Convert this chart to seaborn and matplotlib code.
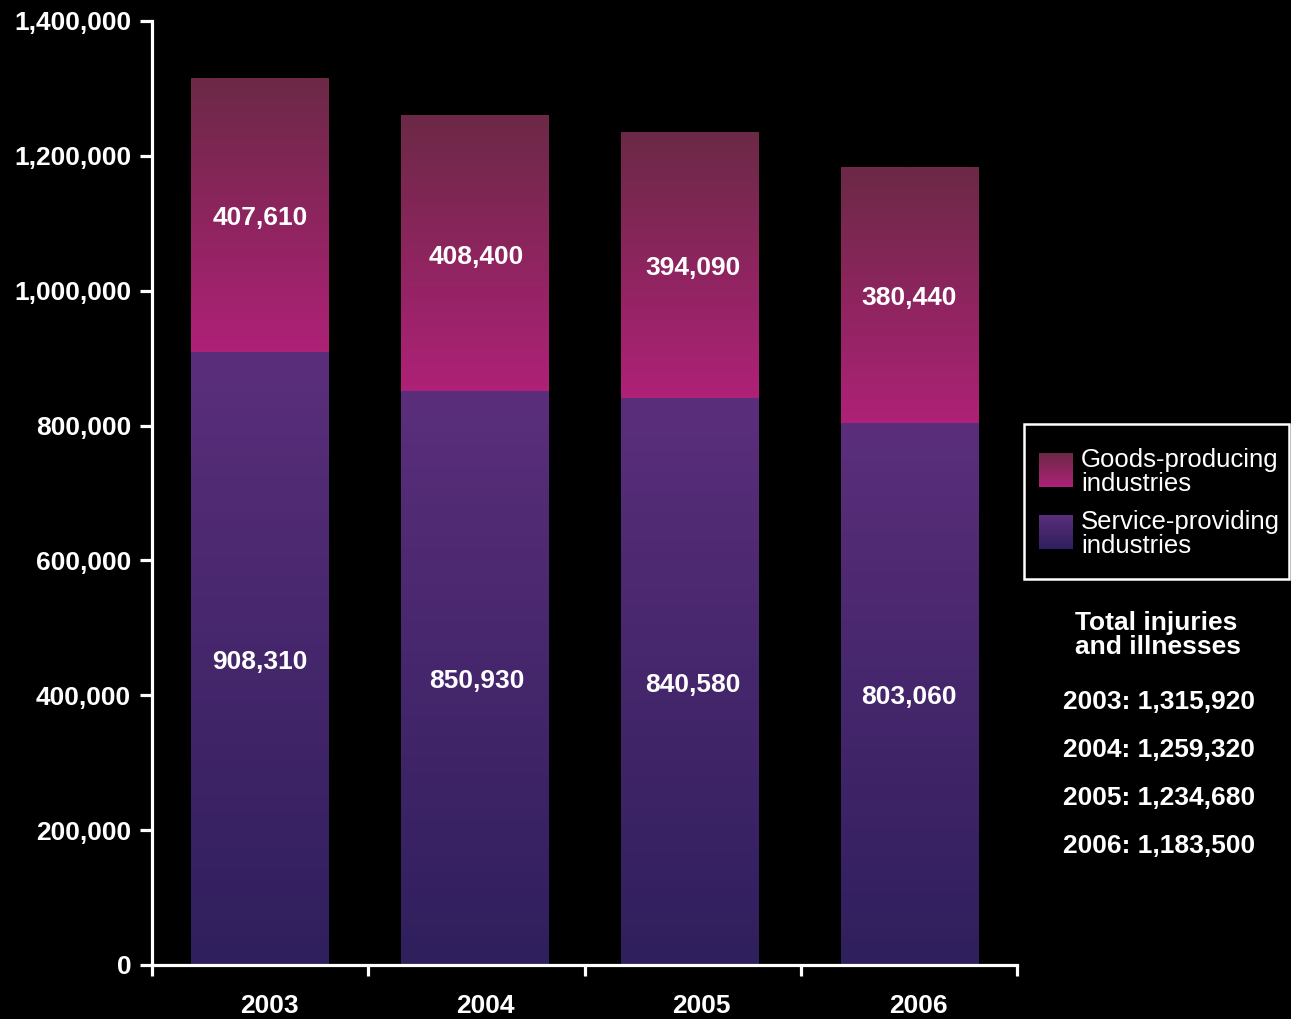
import numpy as np
import pandas as pd
import matplotlib
matplotlib.use("Agg")
import matplotlib.pyplot as plt
import matplotlib.transforms as mtransforms
import seaborn as sns
from matplotlib.colors import LinearSegmentedColormap
from matplotlib.patches import Rectangle

# ---------------- data ----------------
years = ["2003", "2004", "2005", "2006"]
service = [908310, 850930, 840580, 803060]
goods = [407610, 408400, 394090, 380440]
totals = [1315920, 1259320, 1234680, 1183500]
legend_labels = ["Goods-producing\nindustries", "Service-providing\nindustries"]
totals_title = "Total injuries\nand illnesses"
y_ticks = [0, 200000, 400000, 600000, 800000, 1000000, 1200000, 1400000]

# per-bar geometry tweaks (style, in category units)
bar_widths = [0.634, 0.680, 0.634, 0.634]
bar_shift = [-0.003, -0.009, -0.014, 0.003]

# ---------------- style ----------------
sns.set_style("dark")
plt.rcParams["font.family"] = ["Liberation Sans", "DejaVu Sans"]

goods_cmap = LinearSegmentedColormap.from_list("goods", ["#ae2177", "#6c2946"])
service_cmap = LinearSegmentedColormap.from_list("service", ["#2f1f5d", "#5b2e7b"])
grad = np.linspace(0, 1, 256).reshape(-1, 1)

W, H = 1291, 1019
fig = plt.figure(figsize=(W / 100, H / 100), dpi=100, facecolor="black")
ax = fig.add_axes([152 / W, 1 - 965 / H, (1017 - 152) / W, (965 - 21) / H])
ax.set_facecolor("black")

df = pd.DataFrame({"year": years, "service": service, "goods": goods})
df["stack"] = df["service"] + df["goods"]

bw = 0.634
sns.barplot(data=df, x="year", y="stack", color="#8a2560", width=bw,
            saturation=1, ax=ax, zorder=1)
sns.barplot(data=df, x="year", y="service", color="#45276e", width=bw,
            saturation=1, ax=ax, zorder=1)

patches = list(ax.patches)
n = len(years)
for i, p in enumerate(patches[:n]):
    c = p.get_x() + p.get_width() / 2 + bar_shift[i]
    w = bar_widths[i]
    ax.imshow(grad, cmap=goods_cmap, origin="lower", aspect="auto",
              extent=[c - w / 2, c + w / 2, df["service"][i], df["stack"][i]], zorder=2)
    p.set_visible(False)
for i, p in enumerate(patches[n:2 * n]):
    c = p.get_x() + p.get_width() / 2 + bar_shift[i]
    w = bar_widths[i]
    ax.imshow(grad, cmap=service_cmap, origin="lower", aspect="auto",
              extent=[c - w / 2, c + w / 2, 0, df["service"][i]], zorder=2)
    p.set_visible(False)

# value labels (nudged down a few pixels)
tr = mtransforms.offset_copy(ax.transData, fig=fig, x=0, y=-3, units="dots")
for i in range(n):
    ax.text(i, service[i] / 2, f"{service[i]:,}", ha="center", va="center",
            color="white", fontsize=19, fontweight="bold", zorder=3, transform=tr)
    ax.text(i, service[i] + goods[i] / 2, f"{goods[i]:,}", ha="center",
            va="center", color="white", fontsize=19, fontweight="bold", zorder=3,
            transform=tr)

ax.set_xlim(-0.5, n - 0.5)
ax.set_ylim(0, 1400000)
ax.set_xlabel("")
ax.set_ylabel("")
ax.grid(False)

# axes styling
for s in ["top", "right"]:
    ax.spines[s].set_visible(False)
for s in ["left", "bottom"]:
    ax.spines[s].set_visible(True)
    ax.spines[s].set_color("white")
    ax.spines[s].set_linewidth(2.3)
    ax.spines[s].set_zorder(4)

ax.set_yticks(y_ticks, labels=[f"{v:,}" for v in y_ticks])
ax.tick_params(axis="y", which="major", left=True, colors="white", length=8.5,
               width=2.3, pad=6.5, labelsize=19, direction="out")
for lab in ax.get_yticklabels():
    lab.set_fontweight("bold")

ax.set_xticks([i - 0.5 for i in range(n + 1)], labels=[""] * (n + 1))
ax.set_xticks([i + 0.042 for i in range(n)], labels=years, minor=True)
ax.tick_params(axis="x", which="major", bottom=True, colors="white", length=8,
               width=2.3, direction="out")
ax.tick_params(axis="x", which="minor", bottom=True, length=0, pad=21,
               labelsize=19, labelcolor="white")
for lab in ax.get_xticklabels(minor=True):
    lab.set_fontweight("bold")

# ---------------- legend (drawn manually, gradient swatches) ----------------
def fx(px):
    return px / W

def fy(py):
    return 1 - py / H

fig.patches.append(Rectangle((fx(1024), fy(579)), fx(1289 - 1024), (579 - 424) / H,
                             transform=fig.transFigure, facecolor="black",
                             edgecolor="white", linewidth=1.8, zorder=5))

for j, (cmap, ytop) in enumerate([(goods_cmap, 453), (service_cmap, 515)]):
    sw = fig.add_axes([fx(1039), fy(ytop + 34), 34 / W, 34 / H], zorder=6)
    sw.imshow(grad, cmap=cmap, origin="lower", aspect="auto")
    sw.set_axis_off()
    fig.text(fx(1081), fy(ytop + 19), legend_labels[j], ha="left", va="center",
             color="white", fontsize=18.5, linespacing=1.0, zorder=7)

# totals block
fig.text(fx(1075), fy(635), totals_title, ha="left", va="center", color="white",
         fontsize=19, fontweight="bold", linespacing=1.03)
for k in range(n):
    fig.text(fx(1063), fy(702 + 48 * k), f"{years[k]}: {totals[k]:,}", ha="left",
             va="center", color="white", fontsize=19, fontweight="bold")

fig.savefig("out.png", dpi=100, facecolor="black")
